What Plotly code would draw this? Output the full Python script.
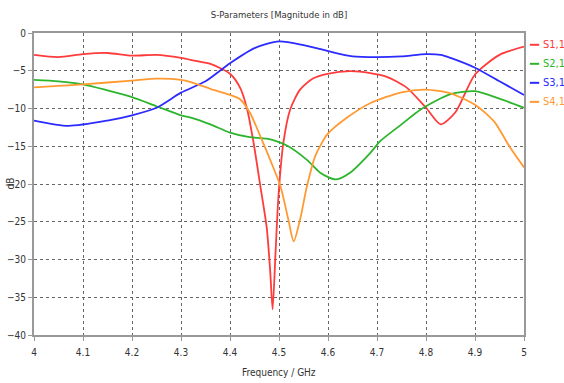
import plotly.graph_objects as go

title_text = "S-Parameters [Magnitude in dB]"
x_title = "Frequency / GHz"
y_title = "dB"
series_names = ["S1,1", "S2,1", "S3,1", "S4,1"]
series_colors = ["#ff3b3b", "#2cb52c", "#2b2bff", "#ff9a33"]

freq_s11 = [4.00, 4.05, 4.10, 4.15, 4.20, 4.25, 4.30, 4.33, 4.36, 4.40, 4.421, 4.435, 4.448,
            4.462, 4.475, 4.482, 4.487, 4.493, 4.499, 4.509, 4.523, 4.543, 4.570, 4.599,
            4.645, 4.686, 4.72, 4.76, 4.80, 4.83, 4.86, 4.90, 4.95, 5.00]
s11 = [-2.9, -3.2, -2.8, -2.65, -3.0, -2.9, -3.3, -3.7, -4.1, -5.4, -7.3, -10.1, -14.5,
       -20.3, -25.8, -31.5, -36.6, -29.0, -21.5, -14.5, -10.1, -7.5, -6.0, -5.4,
       -5.05, -5.3, -5.8, -7.2, -9.9, -12.1, -10.5, -5.5, -2.9, -1.8]

freq_s21 = [4.00, 4.05, 4.10, 4.15, 4.20, 4.25, 4.30, 4.32, 4.36, 4.40, 4.44, 4.475, 4.516,
            4.557, 4.584, 4.615, 4.645, 4.686, 4.707, 4.75, 4.79, 4.85, 4.90, 4.95, 5.00]
s21 = [-6.2, -6.4, -6.8, -7.6, -8.5, -9.7, -10.9, -11.2, -12.1, -13.2, -13.8, -14.0, -14.9,
       -16.8, -18.5, -19.4, -18.5, -15.9, -14.3, -12.1, -10.1, -8.1, -7.7, -8.7, -9.9]

freq_s31 = [4.00, 4.07, 4.15, 4.20, 4.25, 4.30, 4.35, 4.40, 4.45, 4.50, 4.55, 4.60, 4.65,
            4.70, 4.75, 4.80, 4.83, 4.85, 4.90, 4.95, 5.00]
s31 = [-11.6, -12.3, -11.6, -10.9, -9.9, -7.9, -6.4, -4.0, -2.0, -1.1, -1.6, -2.4, -3.1,
       -3.2, -3.1, -2.8, -2.9, -3.3, -4.6, -6.4, -8.2]

freq_s41 = [4.00, 4.05, 4.10, 4.20, 4.25, 4.30, 4.32, 4.36, 4.40, 4.421, 4.441, 4.462, 4.482,
            4.503, 4.519, 4.530, 4.543, 4.557, 4.574, 4.599, 4.639, 4.686, 4.75,
            4.80, 4.85, 4.90, 4.94, 4.97, 5.00]
s41 = [-7.2, -7.0, -6.8, -6.3, -6.05, -6.2, -6.5, -7.4, -8.2, -8.8, -10.6, -13.7, -16.8,
       -20.3, -24.7, -27.6, -24.7, -20.3, -16.3, -13.4, -11.2, -9.3, -7.85,
       -7.5, -8.0, -9.5, -11.8, -15.0, -17.8]

x_ticks = [4.0, 4.1, 4.2, 4.3, 4.4, 4.5, 4.6, 4.7, 4.8, 4.9, 5.0]
x_ticklabels = ["4", "4.1", "4.2", "4.3", "4.4", "4.5", "4.6", "4.7", "4.8", "4.9", "5"]
y_ticks = [0, -5, -10, -15, -20, -25, -30, -35, -40]

FONT = "Liberation Sans Narrow, DejaVu Sans Condensed, Arial Narrow, sans-serif"

fig = go.Figure()
all_x = [freq_s11, freq_s21, freq_s31, freq_s41]
all_y = [s11, s21, s31, s41]
for xs, ys, name, col in zip(all_x, all_y, series_names, series_colors):
    fig.add_trace(go.Scatter(x=xs, y=ys, mode="lines", name=name,
                             line=dict(color=col, width=1.8, shape="spline", smoothing=0.7),
                             showlegend=False))

# custom legend (short line + coloured text), placed right of the plot
leg_y = [0.961, 0.898, 0.835, 0.772]
for name, col, ly in zip(series_names, series_colors, leg_y):
    fig.add_shape(type="line", xref="paper", yref="paper", x0=1.012, x1=1.031, y0=ly, y1=ly,
                  line=dict(color=col, width=2))
    fig.add_annotation(xref="paper", yref="paper", x=1.035, y=ly, text=name, showarrow=False,
                       xanchor="left", yanchor="middle", font=dict(family=FONT, size=11, color=col))

fig.add_annotation(xref="paper", yref="paper", x=0.5, y=-0.123, text=x_title, showarrow=False,
                   xanchor="center", yanchor="middle", font=dict(family=FONT, size=10, color="#333"))
fig.add_annotation(xref="paper", yref="paper", x=-0.05, y=0.5, text=y_title, showarrow=False,
                   textangle=-90, xanchor="center", yanchor="middle",
                   font=dict(family=FONT, size=10, color="#333"))

fig.update_layout(
    width=564, height=383,
    margin=dict(l=33.5, r=40, t=33.3, b=48, autoexpand=False),
    paper_bgcolor="white", plot_bgcolor="white",
    font=dict(family=FONT, size=10, color="#333"),
    title=dict(text=title_text, x=0.5, xref="paper", y=1 - 15 / 383, yref="container",
               xanchor="center", yanchor="middle", font=dict(family=FONT, size=9.5, color="#333")),
)
fig.update_xaxes(range=[4, 5], tickvals=x_ticks, ticktext=x_ticklabels, automargin=False,
                 showgrid=True, gridcolor="#666", griddash="dot", gridwidth=1,
                 showline=True, mirror=True, linecolor="#999", linewidth=2,
                 ticks="outside", ticklen=4, tickcolor="#999", ticklabelstandoff=3,
                 zeroline=False)
fig.update_yaxes(range=[-40, 0], tickvals=y_ticks, automargin=False,
                 showgrid=True, gridcolor="#666", griddash="dot", gridwidth=1,
                 showline=True, mirror=True, linecolor="#999", linewidth=2,
                 ticks="outside", ticklen=4, tickcolor="#999",
                 zeroline=False)

fig.write_html("out.html", config={"displayModeBar": False},
               post_script="document.body.style.margin='0';")
